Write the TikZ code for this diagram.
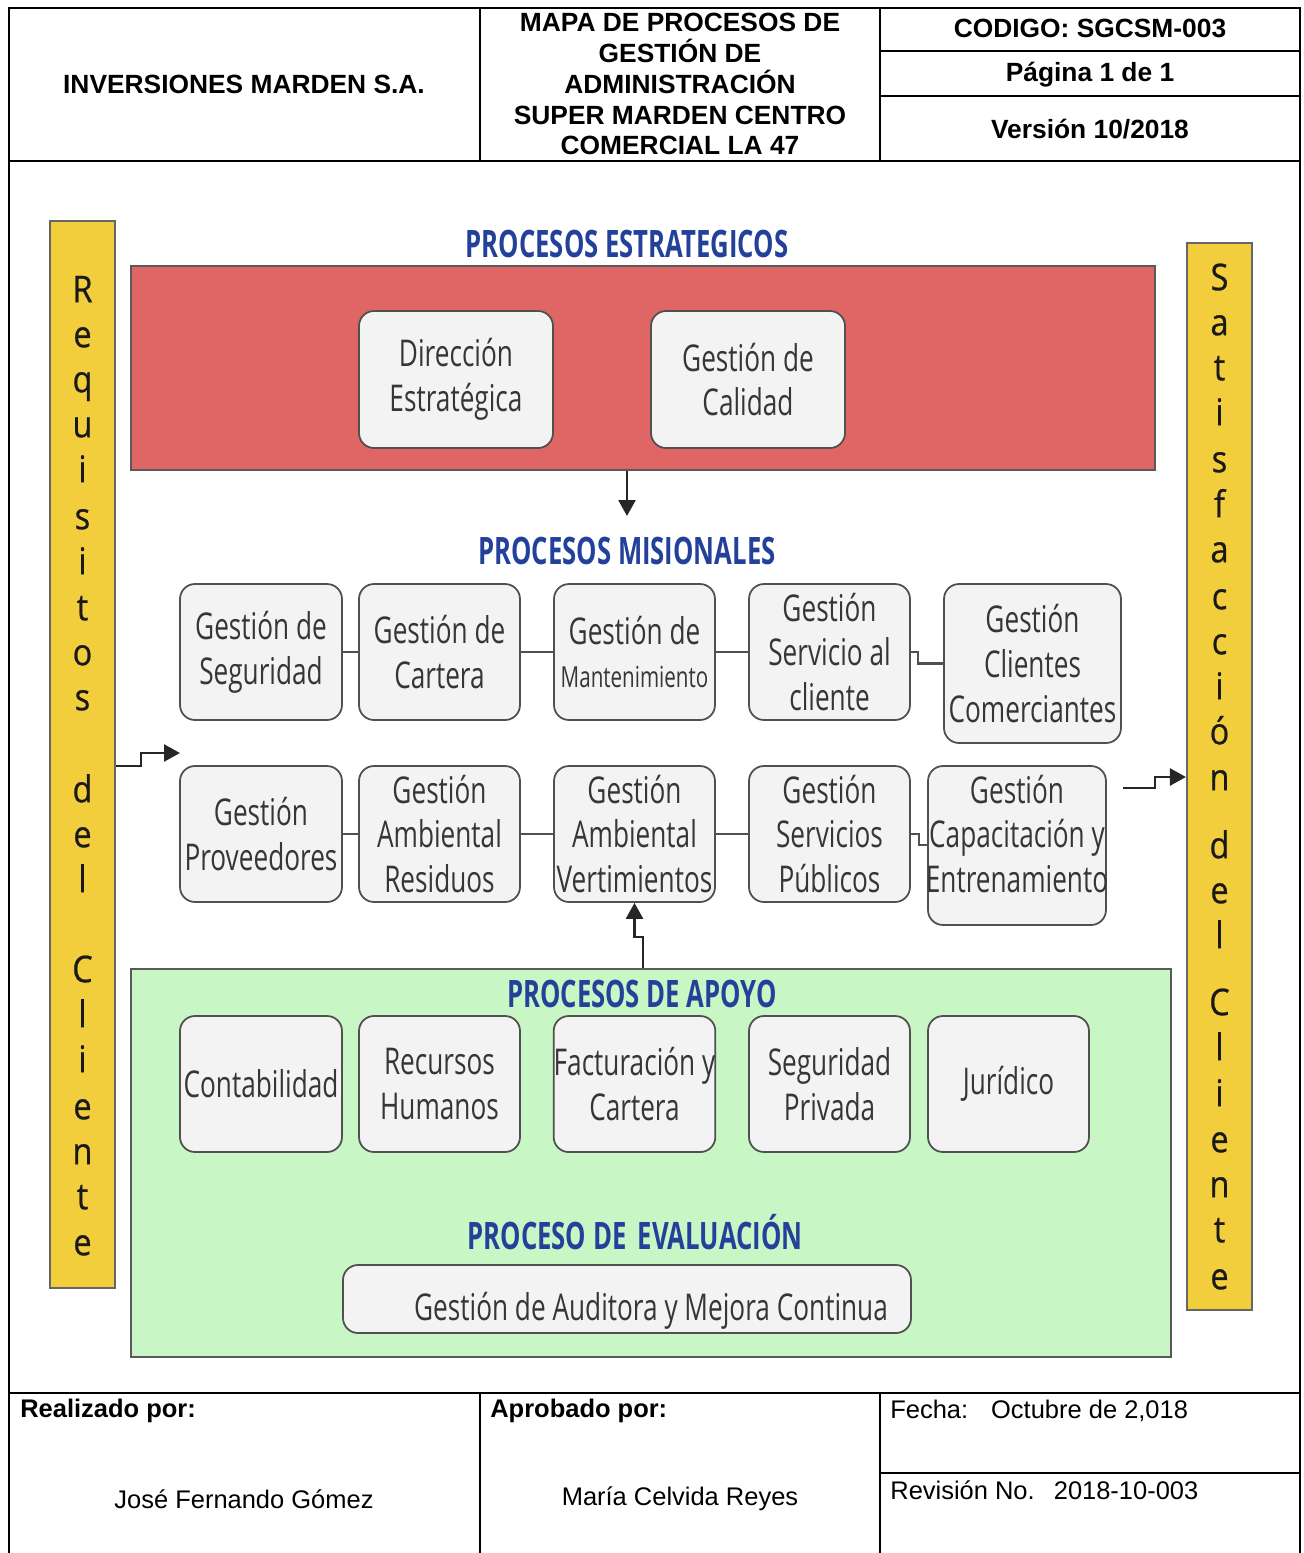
\documentclass[tikz,border=0pt]{standalone}
\usepackage{fontspec}
\setmainfont{Liberation Sans}
\newfontfamily\boxfont[FakeStretch=0.71]{Open Sans}
\newfontfamily\headfont[FakeStretch=0.68]{Open Sans}
\newfontfamily\barfont[FakeStretch=0.88,FakeBold=0.6]{Open Sans}
\usetikzlibrary{arrows.meta,fit}
\definecolor{redfill}{HTML}{E06666}
\definecolor{greenfill}{HTML}{C8F6C4}
\definecolor{yellowfill}{HTML}{F2CD3C}
\definecolor{headblue}{HTML}{23409A}
\definecolor{boxfill}{HTML}{F3F3F3}
\definecolor{boxline}{HTML}{505050}
\definecolor{boxtext}{HTML}{363636}
\newcommand\procbox[6]{%
  \node[proc, minimum width={(#4-#2)*0.02cm}, minimum height={(#5-#3)*0.02cm}]
    (#1) at ({(#2+#4)/2},{(#3+#5)/2}) {#6};}
\begin{document}
\begin{tikzpicture}[x=0.02cm,y=-0.02cm,
  rule/.style={line width=1.1pt},
  htext/.style={font=\fontsize{15}{17.6}\selectfont\bfseries, align=center, inner sep=0pt},
  ftext/.style={font=\fontsize{14.5}{17}\selectfont, inner sep=0pt},
  fbold/.style={font=\fontsize{14.5}{17}\selectfont\bfseries, inner sep=0pt},
  proc/.style={draw=boxline, fill=boxfill, line width=1pt, rounded corners=0.3cm, inner sep=0pt, align=center, text=boxtext, font=\boxfont\fontsize{21}{25.5}\selectfont},
  proctext/.style={inner sep=0pt, align=center, text=boxtext, font=\boxfont\fontsize{21}{25.5}\selectfont},
  groupband/.style={draw=black!65, line width=1.3pt, inner sep=0pt},
  sidebar/.style={draw=black!60, fill=yellowfill, line width=1.2pt, inner sep=0pt},
  barletter/.style={font=\barfont\fontsize{21}{21}\selectfont, text height=0.72em, text depth=0.24em, inner sep=0pt, text=black!90},
  grouptitle/.style={font=\headfont\bfseries\fontsize{21.5}{22}\selectfont, text=headblue, inner sep=0pt},
  conn/.style={draw=boxline, line width=1.4pt},
  arr/.style={draw=black!85, line width=1.4pt, -{Triangle[length=0.32cm,width=0.34cm]}}
]
\useasboundingbox (0,0) rectangle (1303,1553);
\fill[white] (0,0) rectangle (1303,1553);

% ---------- header frame ----------
\draw[rule] (9,1553) -- (9,8) -- (1300,8) -- (1300,1553);
\draw[rule] (9,161) -- (1300,161);
\draw[rule] (480,8) -- (480,161);
\draw[rule] (880,8) -- (880,161);
\draw[rule] (880,51) -- (1300,51);
\draw[rule] (880,96) -- (1300,96);
% ---------- footer frame ----------
\draw[rule] (9,1393) -- (1300,1393);
\draw[rule] (480,1393) -- (480,1553);
\draw[rule] (880,1393) -- (880,1553);
\draw[rule] (880,1473) -- (1300,1473);

% header texts
\node[htext] (company) at (244,84) {INVERSIONES MARDEN S.A.};
\node[htext] (maptitle) at (680,84) {MAPA DE PROCESOS DE\\GESTIÓN DE\\ADMINISTRACIÓN\\SUPER MARDEN CENTRO\\COMERCIAL LA 47};
\node[htext] (codigo) at (1090,28) {CODIGO: SGCSM-003};
\node[htext] (pagina) at (1090,75) {Página 1 de 1};
\node[htext] (version) at (1090,129) {Versión 10/2018};

% footer texts
\node[fbold, anchor=west] (realizado) at (20,1411) {Realizado por:};
\node[fbold, anchor=west] (aprobado) at (490,1411) {Aprobado por:};
\node[ftext] (jose) at (244,1499) {José Fernando Gómez};
\node[ftext] (maria) at (680,1499) {María Celvida Reyes};
\node[ftext, anchor=west] (fecha) at (890,1411) {Fecha:\hspace{0.9em}Octubre de 2,018};
\node[ftext, anchor=west] (revision) at (890,1490) {Revisión No.\hspace{0.75em}2018-10-003};

% ---------- side bars ----------
\node[sidebar, fit={(50,221) (115,1288)}] (Lbar) {};
\node[sidebar, fit={(1187,243) (1252,1310)}] (Rbar) {};
\foreach \ch/\yy [count=\i] in {R/290,e/335,q/380,u/425,i/470,s/517,i/562,t/608,o/653,s/698,d/790,e/835,l/880,C/970,l/1015,i/1060,e/1107,n/1152,t/1197,e/1243}
  \node[barletter] (lq\i) at (82.5,\yy+8) {\ch};
\foreach \ch/\yy [count=\i] in {S/278,a/323,t/368,i/413,s/460,f/505,a/550,c/597,c/642,i/687,ó/732,n/778,d/846,e/891,l/936,C/1003,l/1048,i/1094,e/1140,n/1185,t/1230,e/1277}
  \node[barletter] (rq\i) at (1219.5,\yy+8) {\ch};

% ---------- strategic ----------
\node[grouptitle] (estrtitle) at (627,244) {PROCESOS ESTRATEGICOS};
\node[groupband, fill=redfill, fit={(131,266) (1155,470)}] (estr) {};
\procbox{dir}{359}{311}{553}{448}{Dirección\\Estratégica}
\procbox{cal}{651}{311}{845}{448}{Gestión de\\Calidad}

% ---------- missional ----------
\node[grouptitle] (mistitle) at (627,551) {PROCESOS MISIONALES};
\procbox{m11}{180}{584}{342}{720}{Gestión de\\Seguridad}
\procbox{m12}{359}{584}{520}{720}{Gestión de\\Cartera}
\procbox{m13}{554}{584}{715}{720}{Gestión de\\[-1pt]{\fontsize{16.5}{18}\selectfont Mantenimiento}}
\procbox{m14}{749}{584}{910}{720}{Gestión\\Servicio al\\cliente}
\procbox{m15}{944}{584}{1121}{743}{Gestión\\Clientes\\Comerciantes}
\procbox{m21}{180}{766}{342}{902}{Gestión\\Proveedores}
\procbox{m22}{359}{766}{520}{902}{Gestión\\Ambiental\\Residuos}
\procbox{m23}{554}{766}{715}{902}{Gestión\\Ambiental\\Vertimientos}
\procbox{m24}{749}{766}{910}{902}{Gestión\\Servicios\\Públicos}
\procbox{m25}{928}{766}{1106}{925}{}
\node[proctext] (m25text) at (1017,834) {Gestión\\Capacitación y\\Entrenamiento};

\draw[conn] (m11.east) -- (m12.west);
\draw[conn] (m12.east) -- (m13.west);
\draw[conn] (m13.east) -- (m14.west);
\draw[conn] (m14.east) -- ++(7,0) |- (m15.west);
\draw[conn] (m21.east) -- (m22.west);
\draw[conn] (m22.east) -- (m23.west);
\draw[conn] (m23.east) -- (m24.west);
\coordinate (j2) at (919,845);
\draw[conn] (m24.east) -- (m24.east -| j2) -- (j2) -- (m25.west |- j2);

% ---------- support ----------
\node[groupband, fill=greenfill, fit={(131,969) (1171,1357)}] (apoyo) {};
\node[grouptitle] (apoyotitle) at (642,994) {PROCESOS DE APOYO};
\procbox{a1}{180}{1016}{342}{1152}{Contabilidad}
\procbox{a2}{359}{1016}{520}{1152}{Recursos\\Humanos}
\procbox{a3}{554}{1016}{715}{1152}{Facturación y\\Cartera}
\procbox{a4}{749}{1016}{910}{1152}{Seguridad\\Privada}
\procbox{a5}{928}{1016}{1089}{1152}{Jurídico}

\node[grouptitle] (evaltitle) at (635,1232) {PROCESO DE\hspace{0.3em}EVALUACIÓN};
\procbox{audit}{343}{1265}{911}{1333}{}
\node[proctext] (audittext) at (651,1311) {Gestión de Auditora y Mejora Continua};

% ---------- arrows ----------
\coordinate (dend) at (627,516);
\draw[arr] (estr.south -| dend) -- (dend);
\coordinate (ua) at (643,937);
\draw[arr] (apoyo.north -| ua) -- (ua) -| (m23.south);
\coordinate (lstart) at (115,766);
\coordinate (lend) at (180,753);
\draw[arr] (Lbar.east |- lstart) -- ++(25,0) |- (lend);
\coordinate (rs) at (1123,788);
\coordinate (rm) at (1155,777);
\draw[arr] (rs) -- (rs -| rm) |- (Rbar.west |- rm);
\end{tikzpicture}
\end{document}
